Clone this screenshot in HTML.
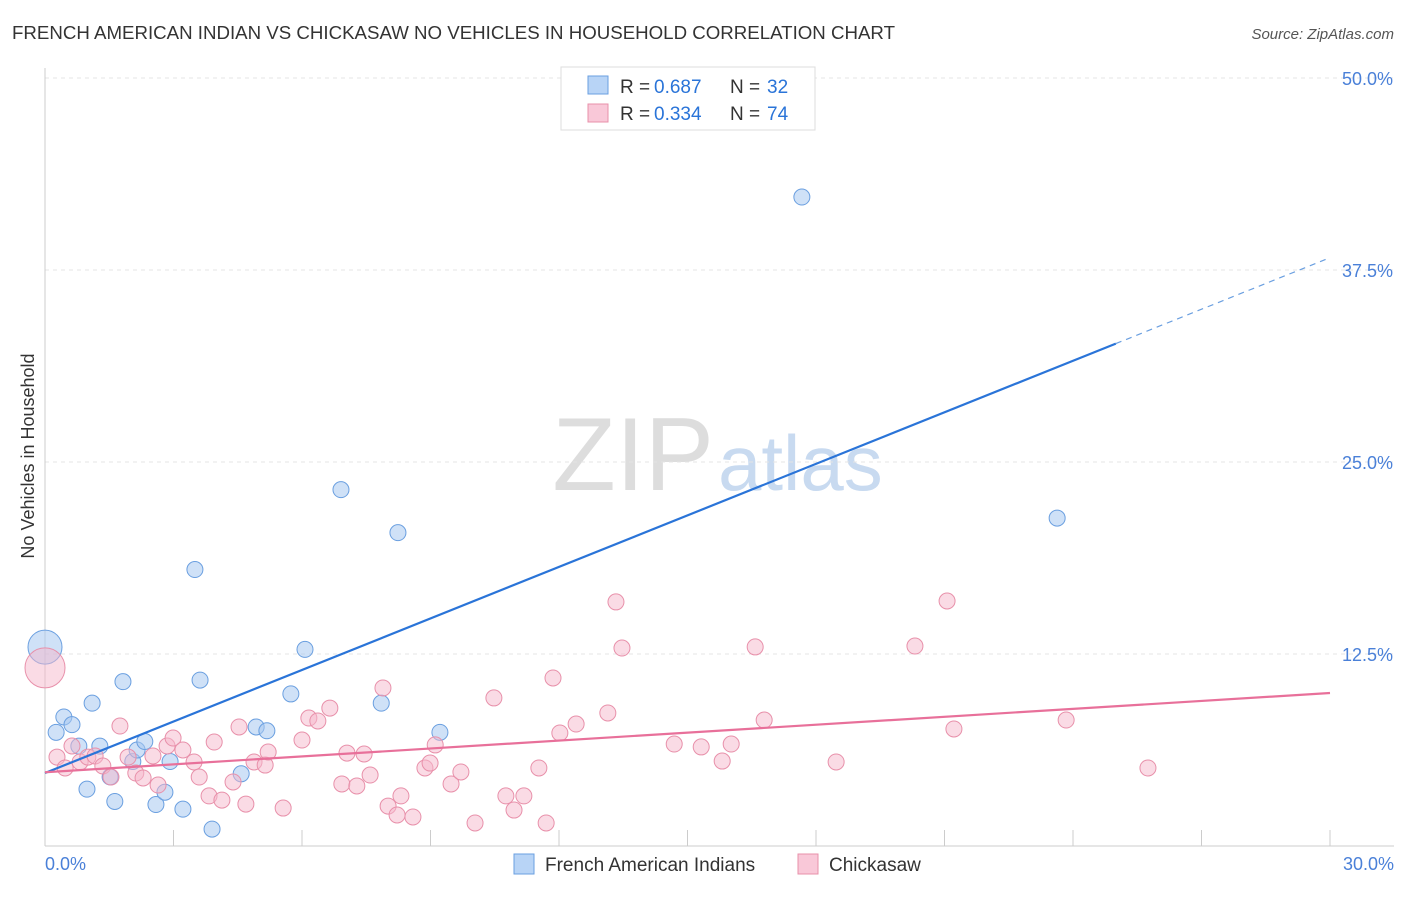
<!DOCTYPE html>
<html><head><meta charset="utf-8"><style>
body{margin:0;background:#fff;font-family:"Liberation Sans",sans-serif;}
svg text{font-family:"Liberation Sans",sans-serif;}
</style></head><body>
<svg id="chart" width="1406" height="892">
<text x="12" y="39" font-size="18" fill="#333" textLength="883" lengthAdjust="spacingAndGlyphs">FRENCH AMERICAN INDIAN VS CHICKASAW NO VEHICLES IN HOUSEHOLD CORRELATION CHART</text>
<text x="1394" y="39" font-size="15" fill="#555" font-style="italic" text-anchor="end">Source: ZipAtlas.com</text>
<text x="714" y="490" font-size="104" fill="#ddd" text-anchor="end" font-family="Liberation Serif">ZIP</text>
<text x="718" y="490" font-size="78" fill="#c8daf0">atlas</text>
<g id="grid"></g>
<g id="axes"></g>
<g id="marks"></g>
<text x="34" y="456" font-size="18" fill="#333" text-anchor="middle" transform="rotate(-90 34 456)">No Vehicles in Household</text>
<text x="45" y="870" font-size="18" fill="#4a80d8">0.0%</text>
<text x="1394" y="870" font-size="18" fill="#4a80d8" text-anchor="end">30.0%</text>
<g>
<rect x="561" y="67" width="254" height="63" fill="#fff" stroke="#ddd"/>
<rect x="588" y="76" width="20" height="18" fill="#b8d4f6" stroke="#6a9fe0"/>
<text x="620" y="93" font-size="19" fill="#333">R =</text>
<text x="654" y="93" font-size="19" fill="#2a74d8">0.687</text>
<text x="730" y="93" font-size="19" fill="#333">N =</text>
<text x="767" y="93" font-size="19" fill="#2a74d8">32</text>
<rect x="588" y="104" width="20" height="18" fill="#f9c8d8" stroke="#e890aa"/>
<text x="620" y="120" font-size="19" fill="#333">R =</text>
<text x="654" y="120" font-size="19" fill="#2a74d8">0.334</text>
<text x="730" y="120" font-size="19" fill="#333">N =</text>
<text x="767" y="120" font-size="19" fill="#2a74d8">74</text>
</g>
<g>
<rect x="514" y="854" width="20" height="20" fill="#b8d4f6" stroke="#6a9fe0"/>
<text x="545" y="871" font-size="19" fill="#333">French American Indians</text>
<rect x="798" y="854" width="20" height="20" fill="#f9c8d8" stroke="#e890aa"/>
<text x="829" y="871" font-size="19" fill="#333">Chickasaw</text>
</g>
</svg>
<script>
const yTicks=[12.5,25,37.5,50];
const yTickLabels=["12.5%","25.0%","37.5%","50.0%"];
const xTicks=[3,6,9,12,15,18,21,24,27,30];
const blueX=[0,0.26,0.44,0.63,0.79,0.98,1.1,1.28,1.52,1.63,1.82,2.05,2.15,2.33,2.59,2.8,2.92,3.22,3.5,3.62,3.9,4.58,4.93,5.18,5.74,6.07,6.91,7.85,8.24,9.22,17.67,23.63];
const blueY=[12.95,7.4,8.4,7.9,6.5,3.7,9.3,6.5,4.5,2.9,10.7,5.5,6.25,6.8,2.7,3.5,5.5,2.4,18.0,10.8,1.1,4.7,7.75,7.5,9.9,12.8,23.2,9.3,20.4,7.4,42.25,21.35];
const pinkPx=[[57,757],[65,768],[72,746],[80,762],[88,757],[95,756],[103,766],[111,777],[120,726],[128,757],[136,773],[143,778],[153,756],[158,785],[167,746],[173,738],[183,750],[194,762],[199,777],[209,796],[214,742],[222,800],[233,782],[239,727],[246,804],[254,762],[265,765],[268,752],[283,808],[302,740],[309,718],[318,721],[330,708],[342,784],[347,753],[357,786],[364,754],[370,775],[383,688],[388,806],[397,815],[401,796],[413,817],[425,768],[430,763],[435,745],[451,784],[461,772],[475,823],[494,698],[506,796],[514,810],[524,796],[539,768],[546,823],[553,678],[560,733],[576,724],[608,713],[616,602],[622,648],[674,744],[701,747],[722,761],[731,744],[755,647],[764,720],[836,762],[915,646],[947,601],[954,729],[1066,720],[1148,768]];
const pinkX=[0].concat(pinkPx.map(p=>+((p[0]-45)/42.83).toFixed(2)));
const pinkY=[11.6].concat(pinkPx.map(p=>+((846-p[1])/15.36).toFixed(2)));
const blueLine=[4.75,38.3];
const pinkLine=[4.8,9.96];
const X0=45,X1=1330,Y0=846;
const sx=v=>X0+(v/30)*(X1-X0);
const sy=v=>Y0-v*15.36;
const NS="http://www.w3.org/2000/svg";
function mk(t,a,p){const e=document.createElementNS(NS,t);for(const k in a)e.setAttribute(k,a[k]);p.appendChild(e);return e;}
const grid=document.getElementById('grid'),axes=document.getElementById('axes'),marks=document.getElementById('marks');
yTicks.forEach((v,i)=>{
 const l=mk('line',{x1:X0,x2:1394,y1:sy(v),y2:sy(v),stroke:'#e4e4e4','stroke-dasharray':'4,4'},grid);
 
 
 const t=mk('text',{x:1393,y:sy(v)+7,'font-size':18,fill:'#4a80d8','text-anchor':'end'},grid);
 t.textContent=yTickLabels[i];
 
 
});
let a=mk('line',{x1:X0,x2:X0,y1:68,y2:Y0,stroke:'#ccc'},axes);


a=mk('line',{x1:X0,x2:1394,y1:Y0,y2:Y0,stroke:'#ccc'},axes);


xTicks.forEach(v=>{const t=mk('line',{x1:sx(v),x2:sx(v),y1:830,y2:Y0,stroke:'#ccc'},axes);
 
 });
blueX.forEach((v,i)=>{const c=mk('circle',{cx:sx(v),cy:sy(blueY[i]),r:i==0?17:8,fill:'rgba(168,200,240,0.55)',stroke:'#6a9fe0','stroke-width':1},marks);
 
 });
pinkX.forEach((v,i)=>{const c=mk('circle',{cx:sx(v),cy:sy(pinkY[i]),r:i==0?20:8,fill:'rgba(245,184,204,0.5)',stroke:'#e890aa','stroke-width':1},marks);
 
 });
const bAt=x=>blueLine[0]+(blueLine[1]-blueLine[0])*x/30;
let l=mk('line',{x1:sx(0),y1:sy(bAt(0)),x2:sx(25),y2:sy(bAt(25)),stroke:'#2a74d8','stroke-width':2.2},marks);


l=mk('line',{x1:sx(25),y1:sy(bAt(25)),x2:sx(30),y2:sy(bAt(30)),stroke:'#6a9fe0','stroke-width':1.2,'stroke-dasharray':'6,5'},marks);


l=mk('line',{x1:sx(0),y1:sy(pinkLine[0]),x2:sx(30),y2:sy(pinkLine[1]),stroke:'#e8709a','stroke-width':2.2},marks);


</script>
</body></html>
